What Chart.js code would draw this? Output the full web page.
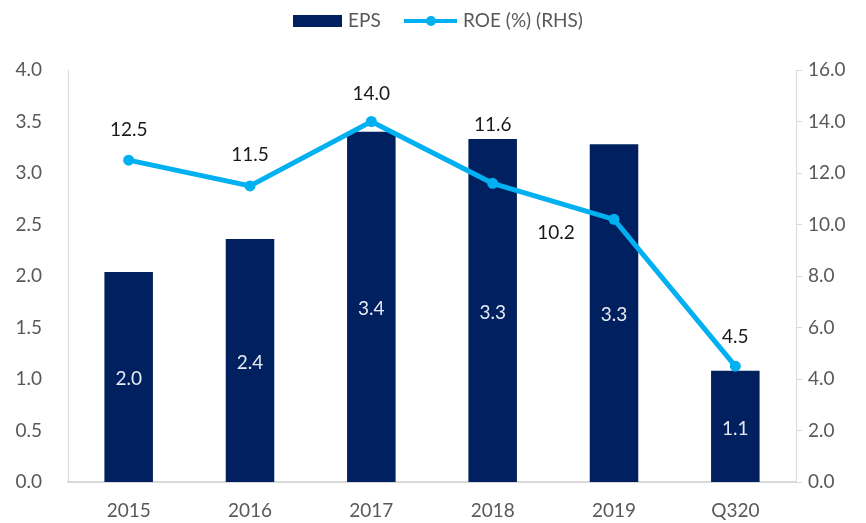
<!DOCTYPE html>
<html>
<head>
<meta charset="utf-8">
<script src="https://cdn.jsdelivr.net/npm/chart.js@4/dist/chart.umd.min.js"></script>
<style>
    html, body { margin: 0; padding: 0; background: #fff; }
    #wrap { width: 866px; height: 523px; }
</style>
</head>
<body>
<div id="wrap"><canvas id="myChart" width="866" height="523"></canvas></div>
<script>
    'use strict';

    var categories = ['2015', '2016', '2017', '2018', '2019', 'Q320'];
    var epsValues = [2.04, 2.36, 3.40, 3.33, 3.28, 1.08];
    var roeValues = [12.5, 11.5, 14.0, 11.6, 10.2, 4.5];
    var epsTicks = [0, 0.5, 1, 1.5, 2, 2.5, 3, 3.5, 4];
    var roeTicks = [0, 2, 4, 6, 8, 10, 12, 14, 16];

    var NAVY = '#002060';
    var BLUE = '#00B0F0';
    var FONT = 'Lato, "Open Sans", sans-serif';
    var FS = 19;

    // label offsets for the ROE line labels (dx, dy from the point)
    var roeLabelOffsets = [[0, -30], [0, -31], [0, -28], [0, -58], [-58, 14], [0, -29]];

    var valueLabels = {
        id: 'valueLabels',
        afterDatasetsDraw: function (chart) {
            var ctx = chart.ctx;
            ctx.save();
            ctx.font = FS + 'px ' + FONT;
            ctx.textAlign = 'center';
            ctx.textBaseline = 'middle';

            var bars = chart.getDatasetMeta(1).data;
            var yL = chart.scales.y;
            bars.forEach(function (bar, i) {
                var mid = (bar.y + yL.getPixelForValue(0)) / 2;
                ctx.fillStyle = '#e6eaf2';
                ctx.fillText(epsValues[i].toFixed(1), bar.x, mid + 2);
            });

            var pts = chart.getDatasetMeta(0).data;
            pts.forEach(function (p, i) {
                ctx.fillStyle = '#1a1a1a';
                ctx.fillText(roeValues[i].toFixed(1), p.x + roeLabelOffsets[i][0], p.y + roeLabelOffsets[i][1]);
            });
            ctx.restore();
        }
    };

    var customLegend = {
        id: 'customLegend',
        afterDraw: function (chart) {
            var ctx = chart.ctx;
            ctx.save();
            ctx.font = FS + 'px ' + FONT;
            ctx.textBaseline = 'middle';
            ctx.textAlign = 'left';
            var y = 21;
            var x = 293;

            ctx.fillStyle = NAVY;
            ctx.fillRect(x, y - 6, 49, 12);
            ctx.fillStyle = '#595959';
            ctx.fillText('EPS', x + 55, y);

            x = 404;
            ctx.strokeStyle = BLUE;
            ctx.lineWidth = 4;
            ctx.beginPath();
            ctx.moveTo(x, y);
            ctx.lineTo(x + 53, y);
            ctx.stroke();
            ctx.fillStyle = BLUE;
            ctx.beginPath();
            ctx.arc(x + 27, y, 5, 0, Math.PI * 2);
            ctx.fill();
            ctx.fillStyle = '#595959';
            ctx.fillText('ROE (%) (RHS)', x + 59, y);
            ctx.restore();
        }
    };

    new Chart(document.getElementById('myChart'), {
        type: 'bar',
        data: {
            labels: categories,
            datasets: [
                {
                    type: 'line',
                    label: 'ROE (%) (RHS)',
                    data: roeValues,
                    yAxisID: 'y1',
                    borderColor: BLUE,
                    backgroundColor: BLUE,
                    borderWidth: 5,
                    pointRadius: 5.5,
                    pointHoverRadius: 5.5,
                    pointBackgroundColor: BLUE,
                    pointBorderWidth: 0,
                    tension: 0,
                    order: 0
                },
                {
                    label: 'EPS',
                    data: epsValues,
                    yAxisID: 'y',
                    backgroundColor: NAVY,
                    categoryPercentage: 1,
                    barPercentage: 0.4,
                    order: 1
                }
            ]
        },
        options: {
            responsive: false,
            animation: false,
            layout: { padding: { top: 70, left: 0, right: 0, bottom: 0 } },
            plugins: {
                legend: { display: false },
                tooltip: { enabled: false }
            },
            scales: {
                x: {
                    grid: { display: false, drawTicks: false },
                    border: { display: true, color: '#d9d9d9', width: 2 },
                    ticks: { color: '#595959', font: { family: FONT, size: FS }, padding: 17 },
                    afterFit: function (scale) { scale.height = 41; }
                },
                y: {
                    position: 'left',
                    min: 0,
                    max: 4,
                    afterBuildTicks: function (scale) {
                        scale.ticks = epsTicks.map(function (v) { return { value: v }; });
                    },
                    grid: { display: false, drawTicks: false },
                    border: { display: true, color: '#d9d9d9', width: 1 },
                    ticks: {
                        color: '#595959',
                        font: { family: FONT, size: FS },
                        padding: 26,
                        callback: function (v) { return Number(v).toFixed(1); }
                    },
                    afterFit: function (scale) { scale.width = 68; }
                },
                y1: {
                    position: 'right',
                    min: 0,
                    max: 16,
                    afterBuildTicks: function (scale) {
                        scale.ticks = roeTicks.map(function (v) { return { value: v }; });
                    },
                    grid: { display: true, drawOnChartArea: false, drawTicks: true, tickLength: 6, color: '#d9d9d9' },
                    border: { display: true, color: '#d9d9d9', width: 1 },
                    ticks: {
                        color: '#595959',
                        font: { family: FONT, size: FS },
                        padding: 6,
                        callback: function (v) { return Number(v).toFixed(1); }
                    },
                    afterFit: function (scale) { scale.width = 70; }
                }
            }
        },
        plugins: [valueLabels, customLegend]
    });
</script>
</body>
</html>
